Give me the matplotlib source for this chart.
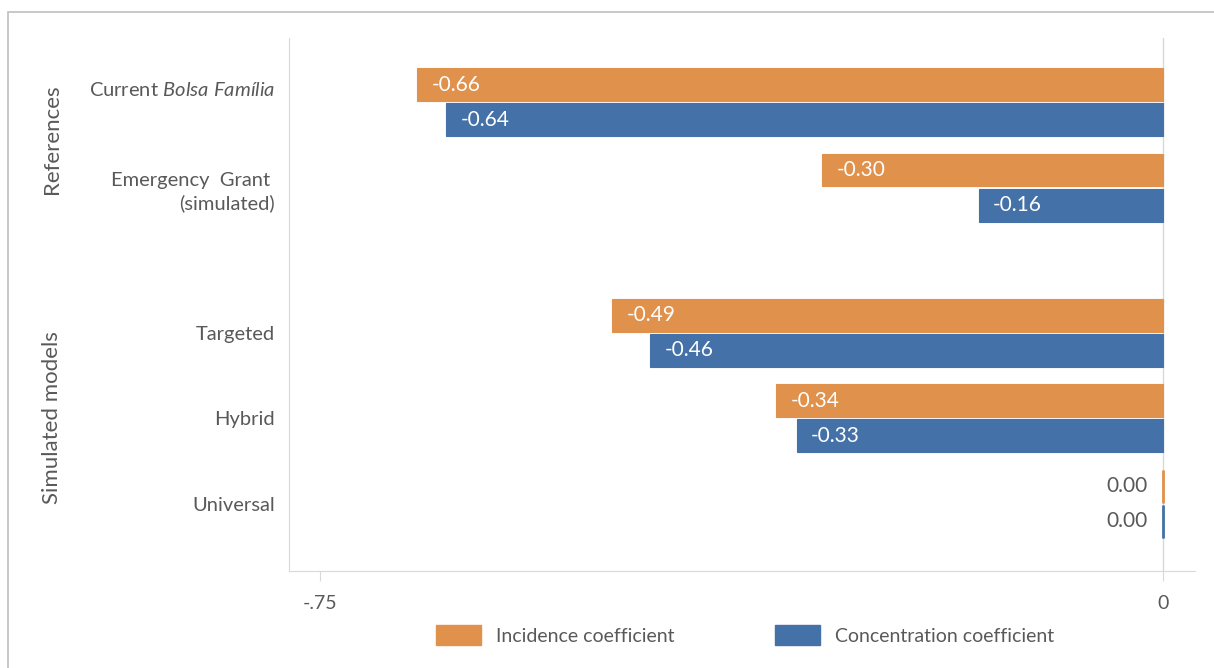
import matplotlib
matplotlib.use("Agg")
import matplotlib.pyplot as plt
import matplotlib.transforms as mtransforms
from matplotlib.patches import Rectangle, Patch
import numpy as np

plt.rcParams['font.family'] = ['Lato', 'DejaVu Sans']
plt.rcParams['mathtext.fontset'] = 'custom'
plt.rcParams['mathtext.rm'] = 'Lato'
plt.rcParams['mathtext.it'] = 'Lato:italic'

# ---- data ----
categories = ["Current $\\mathit{Bolsa\\ Família}$", "Emergency  Grant \n(simulated)",
              "Targeted", "Hybrid", "Universal"]
incidence = [-0.664, -0.303, -0.490, -0.344, 0.0]
concentration = [-0.638, -0.164, -0.456, -0.326, 0.0]
series_names = ["Incidence coefficient", "Concentration coefficient"]
group_names = ["References", "Simulated models"]
xtick_values = [-0.75, 0]
xtick_labels = ["-.75", "0"]

# ---- style ----
orange = "#E0914B"
blue = "#4471A7"
gray_text = "#595959"
line_gray = "#D9D9D9"

W, H = 1214, 668
fig = plt.figure(figsize=(W / 100, H / 100), dpi=100)

# outer frame
fig.patches.append(Rectangle((8 / W, -0.2), 1.2, 1.2 - 12 / H, transform=fig.transFigure,
                             fill=False, edgecolor="#BFBFBF", linewidth=1.2))

ax = fig.add_axes([289 / W, 1 - 571 / H, (1195 - 289) / W, (571 - 38) / H])

ypos = np.array([0, 1, 2.7, 3.7, 4.7])
bh = 0.385
off = 0.205

for vals, dy, col in ((incidence, -off, orange), (concentration, off, blue)):
    ax.barh(ypos + dy, vals, height=bh, color=col, edgecolor=col, linewidth=0.8)
    # zero-valued bars appear as a thin line
    for y, v in zip(ypos, vals):
        if abs(v) < 0.005:
            ax.vlines(v, y + dy - bh / 2, y + dy + bh / 2, color=col, linewidth=2, zorder=3)

ax.set_xlim(-0.7776, 0.0285)
ax.set_ylim(5.485, -0.749)

# value labels
for vals, dy in ((incidence, -off), (concentration, off)):
    for y, v in zip(ypos, vals):
        if v < -0.01:
            ax.annotate(f"{v:.2f}", xy=(v, y + dy), xytext=(10.5, 0), textcoords="offset points",
                        ha="left", va="center", color="white", fontsize=15)
        else:
            ax.annotate(f"{abs(v):.2f}", xy=(0, y + dy), xytext=(-11, 0), textcoords="offset points",
                        ha="right", va="center", color=gray_text, fontsize=15)

# spines
for s in ("top", "right"):
    ax.spines[s].set_visible(False)
ax.spines["left"].set_color(line_gray)
ax.spines["bottom"].set_color(line_gray)
ax.axvline(0, color=line_gray, linewidth=1, zorder=0)

ax.set_xticks(xtick_values)
ax.set_xticklabels(xtick_labels)
ax.tick_params(axis="x", length=7, color=line_gray, labelcolor=gray_text, labelsize=14, pad=10)
ax.set_yticks(ypos)
ax.set_yticklabels(categories, multialignment="right", linespacing=1.35)
ax.tick_params(axis="y", length=0, pad=10, labelcolor=gray_text, labelsize=14.5)
# first category label sits a little higher in the original
first = ax.get_yticklabels()[0]
first.set_transform(first.get_transform() + mtransforms.ScaledTranslation(0, 0.14, fig.dpi_scale_trans))

# group labels
fig.text(52 / W, 1 - 139 / H, group_names[0], rotation=90, ha="center", va="center",
         color=gray_text, fontsize=16)
fig.text(52 / W, 1 - 418 / H, group_names[1], rotation=90, ha="center", va="center",
         color=gray_text, fontsize=16)

handles = [Patch(facecolor=orange, edgecolor=orange), Patch(facecolor=blue, edgecolor=blue)]
fig.legend(handles, series_names, loc="center", bbox_to_anchor=(745 / W, 1 - 635 / H), ncol=2,
           frameon=False, fontsize=14, labelcolor=gray_text, handlelength=2.3, handleheight=1.15,
           columnspacing=5.2, handletextpad=0.75)

fig.savefig("out.png", dpi=100)
